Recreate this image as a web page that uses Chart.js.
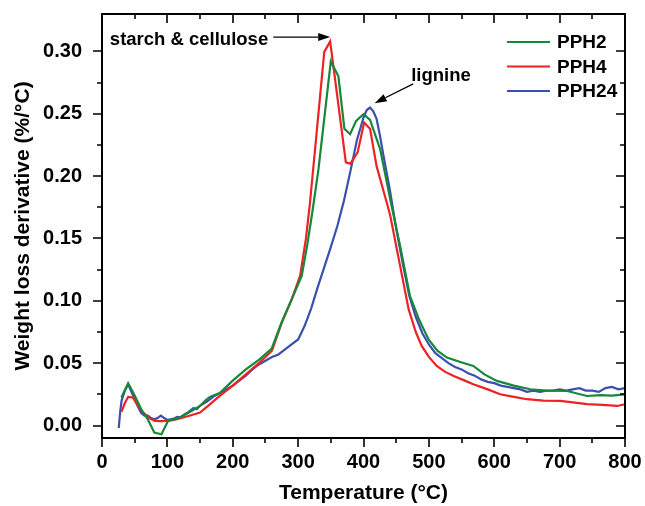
<!DOCTYPE html>
<html><head><meta charset="utf-8">
<script src="https://cdn.jsdelivr.net/npm/chart.js@4.4.1/dist/chart.umd.min.js"></script>
<style>html,body{margin:0;padding:0;background:#fff}#wrap{width:645px;height:506px}</style>
</head><body><div id="wrap"><canvas id="c" width="645" height="506"></canvas></div>
<script>
const seriesNames = ["PPH2", "PPH4", "PPH24"];
const pph2T = [29.7,40,50,60,70,80,91,101,110,119,135,150,158,165,180,200,220,241,259.5,275,290,305.5,314,322,331,350,361.6,370.8,379.5,388.7,400,410,425.5,441.8,456,471,485,499.5,513,527.6,548,568,585,604,630,655,680,711.5,742,762.5,780,800];
const pph2V = [0.0225,0.034,0.024,0.013,0.005,-0.0056,-0.007,0.0037,0.005,0.0064,0.011,0.0157,0.020,0.023,0.026,0.036,0.045,0.053,0.0617,0.083,0.101,0.12,0.145,0.172,0.205,0.292,0.280,0.238,0.2336,0.2443,0.2496,0.245,0.2216,0.179,0.144,0.104,0.085,0.069,0.060,0.0545,0.051,0.0478,0.041,0.0358,0.032,0.0291,0.028,0.0277,0.0237,0.0243,0.024,0.025];
const pph4T = [29.7,35,40,47,55,63,72,81,90,99,110,119,135,150,165,180,200,220,240,260,275,290,303,312,318,326,340,349,373,380,391,401,410,420,437,441,456,469,480,489,500,512,525,538,555,568,590,609,630,650,675,701,720,742,765,788,800];
const pph4V = [0.011,0.018,0.023,0.0225,0.016,0.0104,0.006,0.0037,0.0035,0.0037,0.0045,0.0056,0.008,0.0104,0.017,0.0237,0.032,0.041,0.050,0.060,0.0826,0.101,0.12,0.15,0.178,0.222,0.2996,0.308,0.211,0.210,0.219,0.243,0.238,0.208,0.176,0.168,0.128,0.0933,0.075,0.0638,0.055,0.0478,0.043,0.0398,0.036,0.0331,0.029,0.0251,0.023,0.0211,0.020,0.0197,0.0185,0.0171,0.0165,0.0157,0.0171];
const pph24T = [25.6,28,30,35,40,45,50,55,60,65,70,75,80,85,90,95,100,105,110,115,120,125,130,135,140,145,150,160,170,180,190,200,210,220,230,240,250,260,270,280,290,300,310,320,330,340,350,360,370,380,390,400,405,410,415,420,425,430,440,450,460,470,480,490,500,510,520,530,540,550,560,570,580,590,600,610,620,630,640,650,660,670,680,690,700,710,720,730,740,750,760,770,780,790,800];
const pph24V = [-0.002,0.012,0.020,0.028,0.033,0.027,0.021,0.015,0.010,0.008,0.008,0.006,0.005,0.006,0.008,0.006,0.0045,0.005,0.0055,0.007,0.0065,0.0085,0.010,0.012,0.014,0.013,0.016,0.019,0.023,0.026,0.029,0.032,0.036,0.040,0.045,0.049,0.052,0.055,0.057,0.061,0.065,0.069,0.080,0.094,0.111,0.127,0.143,0.160,0.180,0.204,0.229,0.247,0.253,0.255,0.252,0.246,0.233,0.218,0.190,0.158,0.130,0.104,0.087,0.074,0.065,0.058,0.054,0.050,0.047,0.045,0.042,0.040,0.037,0.035,0.034,0.032,0.031,0.030,0.029,0.027,0.028,0.027,0.028,0.028,0.029,0.028,0.029,0.030,0.028,0.028,0.027,0.030,0.031,0.029,0.030];
const seriesColors = ["#17883a", "#ee2222", "#3a4fae"];
const xTickLabels = [0,100,200,300,400,500,600,700,800];
const xMinorTicks = [50,150,250,350,450,550,650,750];
const yTickLabels = [0.00,0.05,0.10,0.15,0.20,0.25,0.30];
const yMinorTicks = [0.025,0.075,0.125,0.175,0.225,0.275];
const annotStarch = {text:"starch & cellulose", x:12, y:0.309, ax1:262, ax2:349, ay:0.3115};
const annotLignine = {text:"lignine", x:473, y:0.280, ax1:476, ay1:0.274, ax2:417, ay2:0.2585};

function pts(T,V){return T.map((t,i)=>({x:t,y:V[i]}));}
const allT=[pph2T,pph4T,pph24T], allV=[pph2V,pph4V,pph24V];

const framePlugin = {
  id:'frame',
  afterDraw(chart){
    const ctx=chart.ctx, a=chart.chartArea, xs=chart.scales.x, ys=chart.scales.y;
    ctx.save();
    ctx.strokeStyle='#000'; ctx.lineWidth=2;
    ctx.strokeRect(a.left,a.top,a.right-a.left,a.bottom-a.top);
    const maj=9, mnr=5;
    ctx.lineWidth=1.6;
    ctx.beginPath();
    const xt=[...xTickLabels.map(v=>[v,maj]),...xMinorTicks.map(v=>[v,mnr])];
    xt.forEach(([v,l])=>{const px=Math.round(xs.getPixelForValue(v));
      ctx.moveTo(px,a.bottom); ctx.lineTo(px,a.bottom+l);
      ctx.moveTo(px,a.top); ctx.lineTo(px,a.top+l);});
    const yt=[...yTickLabels.map(v=>[v,maj]),...yMinorTicks.map(v=>[v,mnr])];
    yt.forEach(([v,l])=>{const py=Math.round(ys.getPixelForValue(v));
      ctx.moveTo(a.left,py); ctx.lineTo(a.left-l,py);
      ctx.moveTo(a.right,py); ctx.lineTo(a.right-l,py);});
    ctx.stroke();
    // legend
    ctx.font='bold 19px "Liberation Sans", Arial, sans-serif';
    ctx.textBaseline='middle'; ctx.textAlign='left';
    const lx0=507, lx1=550, ly0=42, dy=24.5;
    seriesNames.forEach((n,i)=>{
      const y=ly0+i*dy;
      ctx.strokeStyle=seriesColors[i]; ctx.lineWidth=2.2;
      ctx.beginPath(); ctx.moveTo(lx0,y); ctx.lineTo(lx1,y); ctx.stroke();
      ctx.fillStyle='#000'; ctx.fillText(n,557,y+1);
    });
    // annotations
    ctx.font='bold 18.5px "Liberation Sans", Arial, sans-serif';
    ctx.fillStyle='#000';
    ctx.fillText(annotStarch.text, xs.getPixelForValue(annotStarch.x), ys.getPixelForValue(annotStarch.y));
    arrow(ctx, xs.getPixelForValue(annotStarch.ax1), ys.getPixelForValue(annotStarch.ay), xs.getPixelForValue(annotStarch.ax2), ys.getPixelForValue(annotStarch.ay));
    ctx.fillText(annotLignine.text, xs.getPixelForValue(annotLignine.x), ys.getPixelForValue(annotLignine.y));
    arrow(ctx, xs.getPixelForValue(annotLignine.ax1), ys.getPixelForValue(annotLignine.ay1), xs.getPixelForValue(annotLignine.ax2), ys.getPixelForValue(annotLignine.ay2));
    ctx.restore();
  }
};
function arrow(ctx,x1,y1,x2,y2){
  ctx.strokeStyle='#000'; ctx.fillStyle='#000'; ctx.lineWidth=1.3;
  const ang=Math.atan2(y2-y1,x2-x1), L=12, W=4;
  const bx=x2-L*Math.cos(ang), by=y2-L*Math.sin(ang);
  ctx.beginPath(); ctx.moveTo(x1,y1); ctx.lineTo(bx,by); ctx.stroke();
  ctx.beginPath(); ctx.moveTo(x2,y2);
  ctx.lineTo(bx+W*Math.sin(ang), by-W*Math.cos(ang));
  ctx.lineTo(bx-W*Math.sin(ang), by+W*Math.cos(ang));
  ctx.closePath(); ctx.fill();
}

const tickFont={family:'"Liberation Sans", Arial, sans-serif', size:20, weight:'bold'};
const titleFont={family:'"Liberation Sans", Arial, sans-serif', size:21, weight:'bold'};
new Chart(document.getElementById('c'),{
  type:'line',
  data:{datasets:seriesNames.map((n,i)=>({label:n,data:pts(allT[i],allV[i]),borderColor:seriesColors[i],borderWidth:2.2,pointRadius:0,tension:0,fill:false}))},
  options:{
    responsive:false, animation:false,
    layout:{padding:{left:0,top:14,right:20,bottom:0}},
    plugins:{legend:{display:false},tooltip:{enabled:false}},
    scales:{
      x:{type:'linear',min:0,max:800,
        afterBuildTicks:s=>{s.ticks=xTickLabels.map(v=>({value:v}));},
        afterFit:s=>{s.height=68; s.paddingLeft=0; s.paddingRight=0;},
        grid:{display:false,drawTicks:false},border:{display:false},
        ticks:{font:tickFont,color:'#000',padding:12,maxRotation:0,callback:v=>String(v)},
        title:{display:true,text:'Temperature (°C)',font:titleFont,color:'#000',padding:{top:0,bottom:0}}},
      y:{type:'linear',min:-0.01,max:0.33,
        afterBuildTicks:s=>{s.ticks=yTickLabels.map(v=>({value:v}));},
        afterFit:s=>{s.width=102; s.paddingTop=0; s.paddingBottom=0;},
        grid:{display:false,drawTicks:false},border:{display:false},
        ticks:{font:tickFont,color:'#000',padding:20,callback:v=>Number(v).toFixed(2)},
        title:{display:true,text:'Weight loss derivative (%/°C)',font:titleFont,color:'#000',padding:{top:11,bottom:0}}}
    }
  },
  plugins:[framePlugin]
});
</script></body></html>
